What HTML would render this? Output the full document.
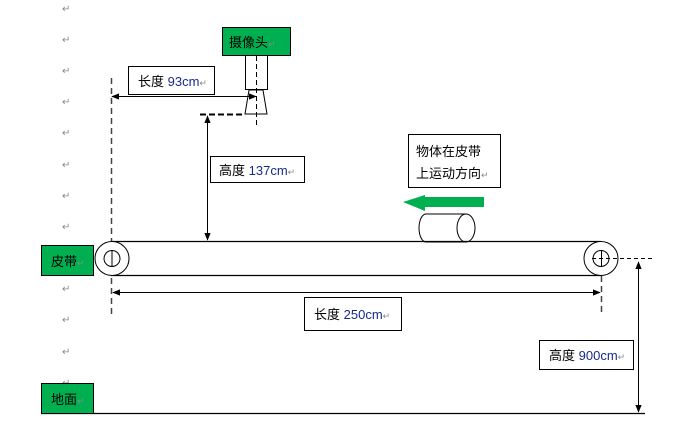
<!DOCTYPE html>
<html><head><meta charset="utf-8"><style>
html,body{margin:0;padding:0;background:#fff;}
svg{display:block;font-family:"Liberation Sans","Noto Sans CJK SC",sans-serif;}
.rm{fill:#888;font-size:10px;}
.t{font-size:13px;fill:#000;}
</style></head><body>
<svg width="690" height="429" viewBox="0 0 690 429" xmlns="http://www.w3.org/2000/svg">
<defs>
<marker id="a" viewBox="0 0 10 10" refX="9" refY="5" markerWidth="8" markerHeight="8" orient="auto-start-reverse"><path d="M0,1 L10,5 L0,9 z" fill="#000"/></marker>
</defs>
<g class="rm">
<text x="62" y="12">↵</text><text x="62" y="43">↵</text><text x="62" y="74">↵</text><text x="62" y="105">↵</text><text x="62" y="136">↵</text><text x="62" y="168">↵</text><text x="62" y="199">↵</text><text x="62" y="230">↵</text><text x="62" y="292">↵</text><text x="62" y="323">↵</text><text x="62" y="355">↵</text><text x="62" y="386">↵</text>
</g>
<!-- camera -->
<rect x="222.5" y="27.5" width="68" height="28" fill="#00b050" stroke="#000"/>
<text class="t" x="229" y="47" font-size="14">摄像头<tspan fill="#888" font-size="9">↵</tspan></text>
<rect x="245.5" y="55.5" width="22" height="34" fill="#fff" stroke="#000"/>
<path d="M249,90 L263,90 L267,114 L245,114 Z" fill="#fff" stroke="#000"/>
<line x1="256.5" y1="56" x2="256.5" y2="128" stroke="#000" stroke-dasharray="5,3"/>
<line x1="200" y1="114.5" x2="245" y2="114.5" stroke="#000" stroke-width="2" stroke-dasharray="6,3"/>
<!-- 93 -->
<rect x="128.5" y="66.5" width="86" height="28" fill="#fff" stroke="#000"/>
<text class="t" x="138" y="86">长度 <tspan fill="#1a2a8a">93cm</tspan><tspan fill="#888" font-size="9">↵</tspan></text>
<line x1="112" y1="96.5" x2="256" y2="96.5" stroke="#000" marker-start="url(#a)" marker-end="url(#a)"/>
<line x1="111.5" y1="78" x2="111.5" y2="314" stroke="#444" stroke-width="1.5" stroke-dasharray="6,4"/>
<!-- 137 -->
<line x1="207.5" y1="116" x2="207.5" y2="240" stroke="#000" marker-start="url(#a)" marker-end="url(#a)"/>
<rect x="210.5" y="156.5" width="94" height="26" fill="#fff" stroke="#000"/>
<text class="t" x="219" y="175">高度 <tspan fill="#1a2a8a">137cm</tspan><tspan fill="#888" font-size="9">↵</tspan></text>
<!-- direction label -->
<rect x="408.5" y="134.5" width="92" height="53" fill="#fff" stroke="#000"/>
<text class="t" x="416" y="156" font-size="14">物体在皮带</text>
<text class="t" x="416" y="178" font-size="14">上运动方向<tspan fill="#888" font-size="9">↵</tspan></text>
<path d="M403,202 L425,195 L425,197 L484,197 L484,207 L425,207 L425,211 Z" fill="#00b050"/>
<!-- cylinder -->
<path d="M426,214 L465,214 A7,14 0 0 1 465,242 L426,242 A7,14 0 0 1 426,214 Z" fill="#fff" stroke="#000"/>
<ellipse cx="466" cy="228" rx="9" ry="14" fill="#fff" stroke="#000"/>
<!-- belt -->
<line x1="111" y1="241.5" x2="601" y2="241.5" stroke="#000" stroke-width="1.2"/>
<line x1="111" y1="275.5" x2="601" y2="275.5" stroke="#000" stroke-width="1.2"/>
<circle cx="112" cy="258.5" r="17" fill="#fff" stroke="#000"/>
<circle cx="112" cy="258.5" r="8" fill="#fff" stroke="#000"/>
<circle cx="601" cy="258.5" r="17" fill="#fff" stroke="#000"/>
<circle cx="601" cy="258.5" r="8" fill="#fff" stroke="#000"/>
<line x1="112" y1="250" x2="112" y2="267" stroke="#000"/>
<line x1="601.5" y1="250" x2="601.5" y2="267" stroke="#000"/>
<line x1="592" y1="258.5" x2="655" y2="258.5" stroke="#000" stroke-dasharray="4,3"/>
<line x1="601.5" y1="276" x2="601.5" y2="316" stroke="#444" stroke-width="1.5" stroke-dasharray="6,4"/>
<rect x="41.5" y="245.5" width="52" height="30" fill="#00b050" stroke="#000"/>
<text class="t" x="51" y="266" font-size="14">皮带<tspan fill="#888" font-size="9">↵</tspan></text>
<!-- 250 -->
<line x1="113" y1="292.5" x2="600" y2="292.5" stroke="#000" marker-start="url(#a)" marker-end="url(#a)"/>
<rect x="304.5" y="297.5" width="97" height="33" fill="#fff" stroke="#000"/>
<text class="t" x="314" y="319">长度 <tspan fill="#1a2a8a">250cm</tspan><tspan fill="#888" font-size="9">↵</tspan></text>
<!-- 900 -->
<line x1="638.5" y1="262" x2="638.5" y2="412" stroke="#000" marker-start="url(#a)" marker-end="url(#a)"/>
<rect x="539.5" y="340.5" width="94" height="29" fill="#fff" stroke="#000"/>
<text class="t" x="549" y="360">高度 <tspan fill="#1a2a8a">900cm</tspan><tspan fill="#888" font-size="9">↵</tspan></text>
<!-- ground -->
<line x1="41" y1="413.5" x2="645" y2="413.5" stroke="#000" stroke-width="1.2"/>
<rect x="41.5" y="383.5" width="52" height="30" fill="#00b050" stroke="#000"/>
<text class="t" x="51" y="404" font-size="14">地面<tspan fill="#888" font-size="9">↵</tspan></text>
</svg>
</body></html>
